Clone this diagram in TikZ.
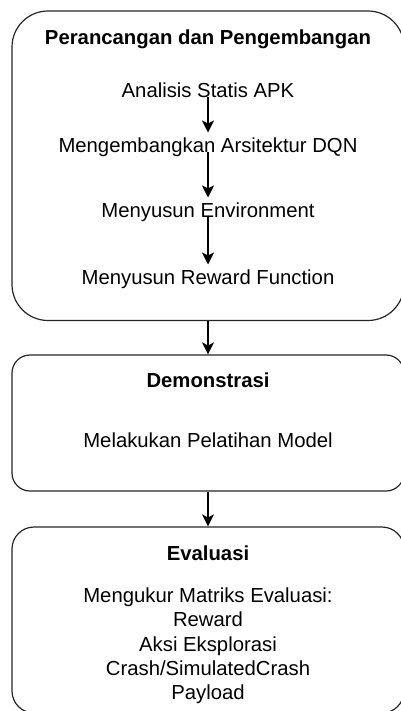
\documentclass[tikz,border=0pt]{standalone}
\usepackage{fontspec}
\setmainfont{Liberation Sans}
\usetikzlibrary{arrows.meta}
\begin{document}
\begin{tikzpicture}[x=1pt,y=-1pt,
  box/.style={draw=black!85, line width=1.2pt, inner sep=0pt, minimum width=392pt},
  lbl/.style={inner sep=0pt, text height=14.6pt, text depth=0pt, font=\fontsize{20.3}{24.2}\selectfont},
  ttl/.style={lbl, font=\fontsize{20.3}{24.2}\selectfont\bfseries},
  arr/.style={-{Stealth[length=12pt,width=12pt,inset=3pt]}, line width=1.2pt}]
\useasboundingbox (0,0) rectangle (400,711);
% boxes
\node[box, rounded corners=36pt, minimum height=309.5pt] (b1) at (208,165.75) {};
\node[box, rounded corners=18pt, minimum height=136pt] (b2) at (208,423) {};
\node[box, rounded corners=22pt, minimum height=186pt] (b3) at (208,620) {};
% box 1 texts
\node[ttl] (t0) at (208,37) {Perancangan dan Pengembangan};
\node[lbl] (t1) at (208,90) {Analisis Statis APK};
\node[lbl] (t2) at (208,145) {Mengembangkan Arsitektur DQN};
\node[lbl] (t3) at (208,210) {Menyusun Environment};
\node[lbl] (t4) at (208,277) {Menyusun Reward Function};
% box 2 texts
\node[ttl] (d0) at (208,380) {Demonstrasi};
\node[lbl] (d1) at (208,440) {Melakukan Pelatihan Model};
% box 3 texts
\node[ttl] (e0) at (208,553) {Evaluasi};
\node[inner sep=0pt, anchor=north, align=center, font=\fontsize{20.3}{24.2}\selectfont] (e1) at (208,587.7)
  {Mengukur Matriks Evaluasi:\\Reward\\Aksi Eksplorasi\\Crash/SimulatedCrash\\Payload};
% arrows
\draw[arr, shorten >=5pt] (t1.south) -- (t2.north);
\draw[arr, shorten >=5pt] (t2.south) -- (t3.north);
\draw[arr, shorten >=5pt] (t3.south) -- (t4.north);
\draw[arr] (b1.south) -- (b2.north);
\draw[arr] (b2.south) -- (b3.north);
\end{tikzpicture}
\end{document}
